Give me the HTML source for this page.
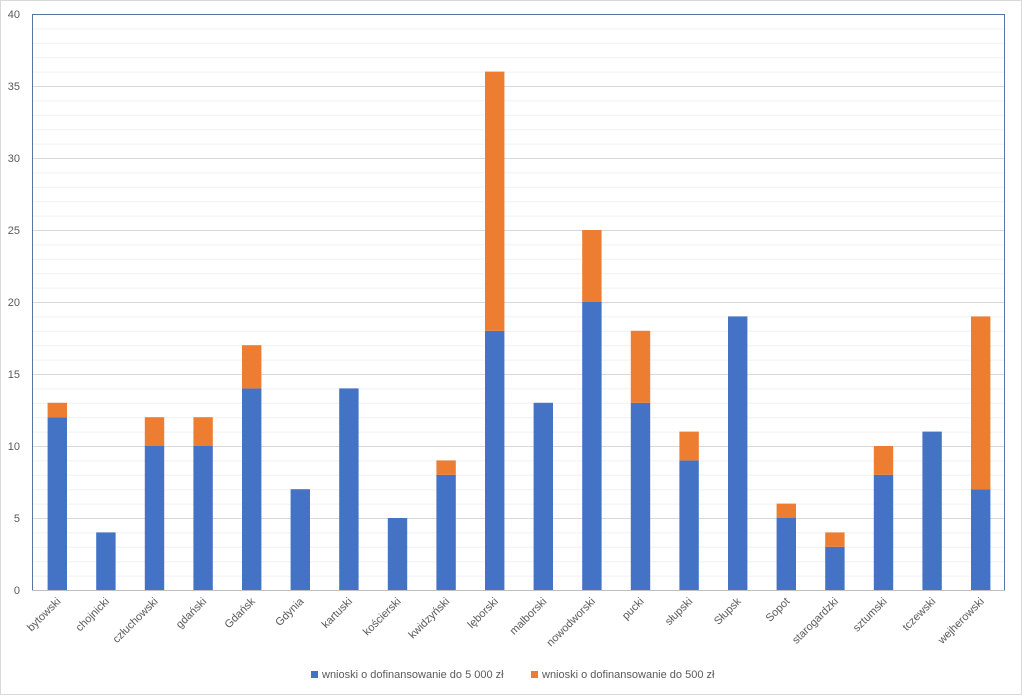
<!DOCTYPE html>
<html><head><meta charset="utf-8"><style>body{margin:0;background:#fff}svg{display:block}</style></head><body>
<svg width="1022" height="695" viewBox="0 0 1022 695" xmlns="http://www.w3.org/2000/svg" font-family="Liberation Sans, sans-serif">
<rect x="0.5" y="0.5" width="1021" height="694" fill="#fff" stroke="#d9d9d9"/>
<g id="grid"></g>
<g id="bars"></g>
<rect x="32.5" y="14.5" width="972" height="576" fill="none" stroke="#5874a0" stroke-width="1"/>
<line x1="32" y1="590.5" x2="1005" y2="590.5" stroke="#bfbfbf"/>
<g id="ylab" font-size="11" fill="#595959" text-anchor="end"></g>
<g id="xlab" font-size="11" fill="#595959" text-anchor="end"></g>
<rect x="311" y="671" width="7" height="7" fill="#4472c4"/>
<text x="322" y="678" font-size="11" fill="#595959">wnioski o dofinansowanie do 5 000 zł</text>
<rect x="531" y="671" width="7" height="7" fill="#ed7d31"/>
<text x="542" y="678" font-size="11" fill="#595959">wnioski o dofinansowanie do 500 zł</text>
<script>
var ns="http://www.w3.org/2000/svg";
function el(p,t,a,txt){var e=document.createElementNS(ns,t);for(var k in a)e.setAttribute(k,a[k]);if(txt!=null)e.textContent=txt;document.getElementById(p).appendChild(e);}
function Y(v){return 590-v*14.4;}
for(var i=1;i<40;i++){el("grid","line",{x1:33,x2:1005,y1:Y(i)+0.5,y2:Y(i)+0.5,stroke:i%5==0?"#d9d9d9":"#f0f0f0"});}
for(var i=0;i<=40;i+=5)el("ylab","text",{x:20,y:Y(i)+4},i);
var d=[["bytowski",12,1],["chojnicki",4,0],["człuchowski",10,2],["gdański",10,2],["Gdańsk",14,3],["Gdynia",7,0],["kartuski",14,0],["kościerski",5,0],["kwidzyński",8,1],["lęborski",18,18],["malborski",13,0],["nowodworski",20,5],["pucki",13,5],["słupski",9,2],["Słupsk",19,0],["Sopot",5,1],["starogardzki",3,1],["sztumski",8,2],["tczewski",11,0],["wejherowski",7,12]];
d.forEach(function(r,i){var c=33+48.6*(i+0.5);var x=c-9.7;
el("bars","rect",{x:x,y:Y(r[1]),width:19.4,height:r[1]*14.4,fill:"#4472c4"});
if(r[2])el("bars","rect",{x:x,y:Y(r[1]+r[2]),width:19.4,height:r[2]*14.4,fill:"#ed7d31"});
el("xlab","text",{x:c+4,y:602,transform:"rotate(-45 "+(c+4)+" 602)"},r[0]);});
</script>
</svg>
</body></html>
